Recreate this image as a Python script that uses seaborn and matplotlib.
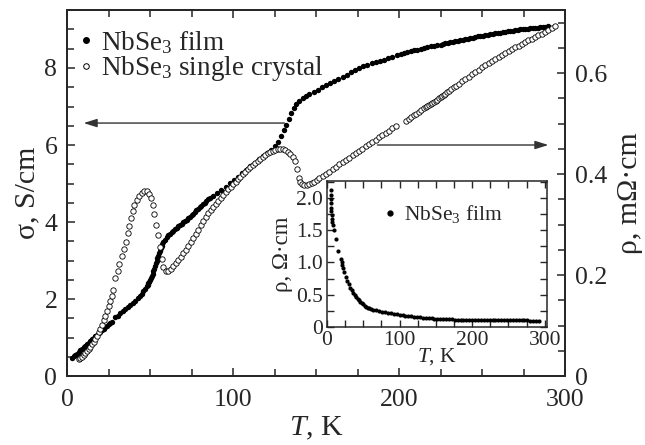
import matplotlib
matplotlib.use('Agg')
import matplotlib.pyplot as plt
from matplotlib.lines import Line2D
from matplotlib.ticker import MultipleLocator, FuncFormatter
import seaborn as sns

# NbSe3 film: conductivity, S/cm (left axis)
film_T = [3, 4, 5, 6, 7, 8, 9, 10, 11, 12, 13, 14, 15, 16, 17, 18, 19, 20, 21, 22, 23, 24, 25, 26, 27,
          29, 30.5, 32, 33.5, 35, 36.5, 38, 39.5, 41, 42.5, 44, 45, 46, 47,
          48, 48.5, 49, 49.5, 50, 50.5, 51, 51.5, 52, 52.5, 53, 53.5, 54, 54.5, 55, 55.5, 56, 56.5, 57, 57.5, 58,
          59, 60, 61, 62, 63, 64, 65, 66, 67, 68, 69, 70, 71, 72, 73, 74, 75, 76, 77, 78, 79, 80, 81, 82, 83, 84, 85, 86,
          88, 90.5, 93, 95.5, 98, 100.5, 103, 105.5, 108, 110.5, 113, 115.5, 118, 120.5, 123,
          125, 127, 129, 130.5, 132, 133.5, 135, 136.5, 138, 140, 142, 144, 146,
          148.5, 151, 153.5, 156, 158.5, 161, 163.5, 166, 168.5, 171, 173.5, 176, 178.5, 181, 183.5, 186, 188.5,
          191, 193.5, 196, 198.5, 201,
          203, 205, 207, 209, 211, 213, 215, 217, 219, 221, 223, 225,
          226.5, 228, 229.5, 231, 232.5, 234, 235.5, 237, 238.5, 240, 241.5, 243, 244.5, 246, 247.5, 249, 250.5,
          252, 253.5, 255, 256.5, 258, 259.5, 261, 262.5, 264, 265.5, 267, 268.5, 270, 271.5, 273, 274.5, 276,
          277.5, 279, 280.5, 282, 283.5, 285, 286.5, 288, 289.5]
film_sigma = [0.48, 0.51, 0.55, 0.58, 0.62, 0.67, 0.71, 0.75, 0.79, 0.83, 0.87, 0.91, 0.95, 0.99, 1.03, 1.07,
              1.11, 1.15, 1.19, 1.23, 1.27, 1.31, 1.35, 1.38, 1.41,
              1.52, 1.57, 1.63, 1.68, 1.73, 1.78, 1.84, 1.90, 1.96, 2.02, 2.09, 2.14, 2.20, 2.26,
              2.33, 2.37, 2.41, 2.45, 2.50, 2.55, 2.60, 2.66, 2.72, 2.79, 2.86, 2.93, 3.00, 3.07, 3.13, 3.20,
              3.26, 3.32, 3.38, 3.43, 3.47,
              3.54, 3.60, 3.65, 3.69, 3.73, 3.77, 3.81, 3.85, 3.89, 3.93, 3.96, 4.00, 4.03, 4.06, 4.10, 4.14,
              4.18, 4.22, 4.26, 4.30, 4.34, 4.38, 4.42, 4.46, 4.50, 4.55, 4.59, 4.62,
              4.68, 4.76, 4.84, 4.92, 5.01, 5.09, 5.18, 5.27, 5.36, 5.45, 5.54, 5.63, 5.72, 5.80, 5.88,
              5.97, 6.08, 6.23, 6.38, 6.53, 6.68, 6.83, 6.96, 7.06, 7.14, 7.21, 7.27, 7.32,
              7.38, 7.44, 7.50, 7.55, 7.61, 7.66, 7.72, 7.77, 7.83, 7.89, 7.94, 8.00, 8.04, 8.08, 8.12, 8.15, 8.19,
              8.22, 8.26, 8.29, 8.33, 8.37,
              8.40, 8.42, 8.44, 8.46, 8.48, 8.50, 8.52, 8.54, 8.56, 8.58, 8.59, 8.61,
              8.62, 8.64, 8.65, 8.67, 8.68, 8.70, 8.71, 8.72, 8.74, 8.75, 8.76, 8.78, 8.79, 8.80, 8.82, 8.83, 8.84,
              8.86, 8.87, 8.88, 8.89, 8.90, 8.91, 8.92, 8.93, 8.94, 8.95, 8.96, 8.97, 8.98, 8.99, 9.00, 9.00, 9.01,
              9.02, 9.03, 9.04, 9.04, 9.05, 9.06, 9.06, 9.07, 9.08]

# NbSe3 single crystal: resistivity, mOhm*cm (right axis)
crystal_T = [7, 8, 9, 10, 11, 12, 13, 14, 15, 16, 17, 18, 19, 20, 21, 22, 23, 24, 25, 26, 27, 28,
             29, 30.5, 31.5, 33, 34.5, 35.5, 36.5, 37.5, 38.5, 39.5, 40.5, 42, 43.5, 45, 46.5, 48, 49.5, 50.5,
             51.5, 52.5, 53.5, 55, 56, 57, 58, 59.5,
             61, 62.5, 64, 65.5, 67, 68.5, 70, 71.5, 73, 74.5, 76, 77.5, 79, 80.5, 82, 83.5, 85, 86.5, 88, 89.5,
             91, 92.5, 94, 95.5, 97, 98.5, 100,
             101.5, 103, 104.5, 106, 107.5, 109, 110.5, 112, 113.5, 115, 116.5, 118, 119.5, 121, 122.5, 124,
             125.5, 127, 128.5, 130, 131.5, 133, 134.5, 136,
             137.5, 138.5, 139.5, 140.5, 141.5, 143, 144.5, 146, 147.5, 149, 150.5,
             152, 154, 156, 158, 160, 162, 164, 166, 168, 170, 172, 174, 176, 178, 180, 182, 184, 186, 188, 190,
             192, 194, 196, 198,
             204, 206, 207.5, 209, 210.5, 212, 213.5, 215, 216, 217, 218, 219, 220, 221, 222, 223, 224, 225, 226,
             227, 228, 229, 230, 231.5, 233, 234.5, 236,
             238, 240, 242, 244, 246, 248, 250, 252, 254, 256, 258, 260, 262, 264, 266, 268, 270, 272, 274, 276,
             278, 280, 282, 284, 286, 288, 290, 292, 294]
crystal_rho = [0.033, 0.035, 0.038, 0.041, 0.045, 0.049, 0.053, 0.058, 0.063, 0.068, 0.074, 0.080, 0.087,
               0.094, 0.102, 0.110, 0.119, 0.128, 0.138, 0.148, 0.158, 0.170,
               0.194, 0.208, 0.222, 0.237, 0.251, 0.266, 0.283, 0.298, 0.313, 0.326, 0.339, 0.349, 0.356, 0.362,
               0.366, 0.366, 0.361, 0.353, 0.339, 0.320, 0.300, 0.280, 0.255, 0.232, 0.216, 0.208,
               0.208, 0.212, 0.218, 0.223, 0.229, 0.236, 0.243, 0.250, 0.257, 0.265, 0.273, 0.281, 0.290, 0.299,
               0.307, 0.315, 0.322, 0.329, 0.335, 0.341, 0.347, 0.353, 0.359, 0.365, 0.370, 0.375, 0.380,
               0.385, 0.390, 0.395, 0.400, 0.404, 0.409, 0.413, 0.418, 0.422, 0.426, 0.430, 0.434, 0.438, 0.441,
               0.444, 0.446, 0.448, 0.449, 0.450, 0.449, 0.447, 0.444, 0.440, 0.434,
               0.425, 0.410, 0.392, 0.385, 0.381, 0.379, 0.379, 0.380, 0.382, 0.385, 0.388,
               0.392, 0.396, 0.401, 0.405, 0.410, 0.414, 0.419, 0.423, 0.428, 0.432, 0.437, 0.441, 0.446, 0.450,
               0.455, 0.459, 0.464, 0.468, 0.473, 0.477, 0.482, 0.486, 0.491, 0.495,
               0.505, 0.509, 0.512, 0.516, 0.519, 0.523, 0.526, 0.530, 0.532, 0.534, 0.536, 0.538, 0.541, 0.543,
               0.545, 0.547, 0.550, 0.552, 0.554, 0.557, 0.559, 0.562, 0.564, 0.568, 0.572, 0.575, 0.579,
               0.584, 0.589, 0.593, 0.598, 0.602, 0.606, 0.611, 0.615, 0.619, 0.624, 0.628, 0.632, 0.636, 0.640,
               0.643, 0.647, 0.651, 0.654, 0.658, 0.661, 0.665, 0.668, 0.672, 0.675, 0.678, 0.682, 0.686, 0.690,
               0.694]

# inset: NbSe3 film resistivity, Ohm*cm
inset_T = [5, 5, 5.5, 5.5, 6, 6, 6.5, 7, 7.5, 8, 10, 13, 15, 19, 20, 21, 22,
           24, 26, 28, 30, 32, 34, 36, 38, 40, 42, 44, 46, 48, 50, 52, 54, 56, 58,
           60, 64, 68, 72, 76, 80, 84, 88, 92, 96, 100, 104, 108, 112, 116, 120, 124, 128, 132, 136,
           140, 144, 148, 152, 156, 160, 164, 168, 172, 176, 180, 184, 188, 192, 196, 200, 204, 208, 212, 216,
           220, 224, 228, 232, 236, 240, 244, 248, 252, 256, 260, 264, 268, 272, 276, 280, 284, 288, 292]
inset_rho = [2.12, 2.05, 1.98, 1.92, 1.85, 1.80, 1.74, 1.68, 1.62, 1.58, 1.50, 1.37, 1.18, 1.06, 1.00, 0.96, 0.92,
             0.85, 0.78, 0.71, 0.66, 0.61, 0.57, 0.53, 0.50, 0.47, 0.44, 0.415, 0.39, 0.37, 0.35, 0.33, 0.315,
             0.30, 0.29,
             0.280, 0.268, 0.257, 0.246, 0.236, 0.227, 0.219, 0.211, 0.204, 0.197, 0.190, 0.184, 0.178, 0.172,
             0.166, 0.161, 0.156, 0.152, 0.147, 0.142, 0.137, 0.134, 0.131, 0.128, 0.126, 0.124, 0.122, 0.120,
             0.119, 0.117, 0.116, 0.115, 0.114, 0.113, 0.112, 0.111, 0.110, 0.110, 0.109, 0.108, 0.108, 0.107,
             0.107, 0.106, 0.106, 0.105, 0.105, 0.104, 0.104, 0.103, 0.103, 0.103, 0.102, 0.102, 0.102, 0.101,
             0.101, 0.101, 0.100]

sns.set_style('ticks')
plt.rcParams['font.family'] = ['Liberation Serif', 'DejaVu Serif']
plt.rcParams['mathtext.fontset'] = 'custom'
plt.rcParams['mathtext.rm'] = 'Liberation Serif'
plt.rcParams['mathtext.it'] = 'Liberation Serif:italic'

FS = 18.5      # main tick label size
FS_LAB = 21.5  # main axis label size
FS_IN = 15.5   # inset tick label size


def num_fmt(v, pos):
    return '0' if abs(v) < 1e-9 else '%.1f' % v


fig = plt.figure(figsize=(6.45, 4.45), dpi=100)
ax = fig.add_axes([0.1039, 0.155, 0.7721, 0.8225])
ax2 = ax.twinx()

sns.scatterplot(x=film_T, y=film_sigma, ax=ax, color='black', s=15, linewidth=0)
sns.scatterplot(x=crystal_T, y=crystal_rho, ax=ax2, color='black', facecolor='white',
                edgecolor='black', s=15, linewidth=0.6)

ax.set_xlim(0, 300)
ax.set_ylim(0, 9.506)
ax2.set_ylim(0, 0.7248)

ax.xaxis.set_major_locator(MultipleLocator(100))
ax.xaxis.set_minor_locator(MultipleLocator(25))
ax.yaxis.set_major_locator(MultipleLocator(2))
ax.yaxis.set_minor_locator(MultipleLocator(0.5))
ax2.yaxis.set_major_locator(MultipleLocator(0.2))
ax2.yaxis.set_minor_locator(MultipleLocator(0.05))
ax2.yaxis.set_major_formatter(FuncFormatter(num_fmt))

for a in (ax, ax2):
    for s in a.spines.values():
        s.set_linewidth(1.3)
ax.tick_params(which='both', direction='in', top=True, right=False, width=1.1, labelsize=FS)
ax.tick_params(which='major', length=6)
ax.tick_params(which='minor', length=5)
ax.tick_params(axis='x', pad=9)
ax.tick_params(axis='y', pad=7)
ax2.tick_params(which='both', direction='in', width=1.1, labelsize=FS, pad=7)
ax2.tick_params(which='major', length=6)
ax2.tick_params(which='minor', length=5)

ax.set_xlabel(r'$T$, K', fontsize=FS_LAB, labelpad=3)
ax.set_ylabel('σ, S/cm', fontsize=FS_LAB, labelpad=3)
ax2.set_ylabel('ρ, mΩ·cm', fontsize=FS_LAB, labelpad=7)

# arrows pointing to the relevant axes
arrow = dict(arrowstyle='-|>,head_length=0.8,head_width=0.25', color='#333333', lw=1.0,
             shrinkA=0, shrinkB=0)
ax.annotate('', xy=(10, 6.57), xytext=(131, 6.57), arrowprops=arrow)
ax.annotate('', xy=(290, 6.0), xytext=(187, 6.0), arrowprops=arrow)

handles = [Line2D([], [], ls='', marker='o', ms=4, mfc='black', mec='black'),
           Line2D([], [], ls='', marker='o', ms=4, mfc='white', mec='black', mew=0.7)]
ax2.legend(handles, [r'NbSe$_3$ film', r'NbSe$_3$ single crystal'], loc='upper left',
           bbox_to_anchor=(0.0, 0.978), frameon=False, fontsize=19.5, handlelength=0.6,
           handletextpad=0.25, labelspacing=-0.05, borderaxespad=0.2, borderpad=0.2)

# inset
axin = fig.add_axes([0.507, 0.265, 0.341, 0.328])
axin.set_facecolor('white')
sns.scatterplot(x=inset_T, y=inset_rho, ax=axin, color='black', s=9, linewidth=0)
axin.set_xlim(0, 303)
axin.set_ylim(0, 2.26)
axin.xaxis.set_major_locator(MultipleLocator(100))
axin.xaxis.set_minor_locator(MultipleLocator(25))
axin.yaxis.set_major_locator(MultipleLocator(0.5))
axin.yaxis.set_minor_locator(MultipleLocator(0.25))
axin.yaxis.set_major_formatter(FuncFormatter(num_fmt))
for s in axin.spines.values():
    s.set_linewidth(1.1)
axin.tick_params(which='both', direction='in', top=True, right=True, width=1.0,
                 length=5, labelsize=FS_IN, pad=3)
axin.set_xlabel(r'$T$, K', fontsize=FS_IN, labelpad=-3)
axin.set_ylabel('ρ, Ω·cm', fontsize=16.5, labelpad=2)
axin.legend([Line2D([], [], ls='', marker='o', ms=3.5, mfc='black', mec='black')],
            [r'NbSe$_3$ film'], loc='upper left', bbox_to_anchor=(0.19, 0.95),
            frameon=False, fontsize=FS_IN, handlelength=0.6, handletextpad=0.32, borderpad=0.2)

fig.savefig('out.png', dpi=100)
